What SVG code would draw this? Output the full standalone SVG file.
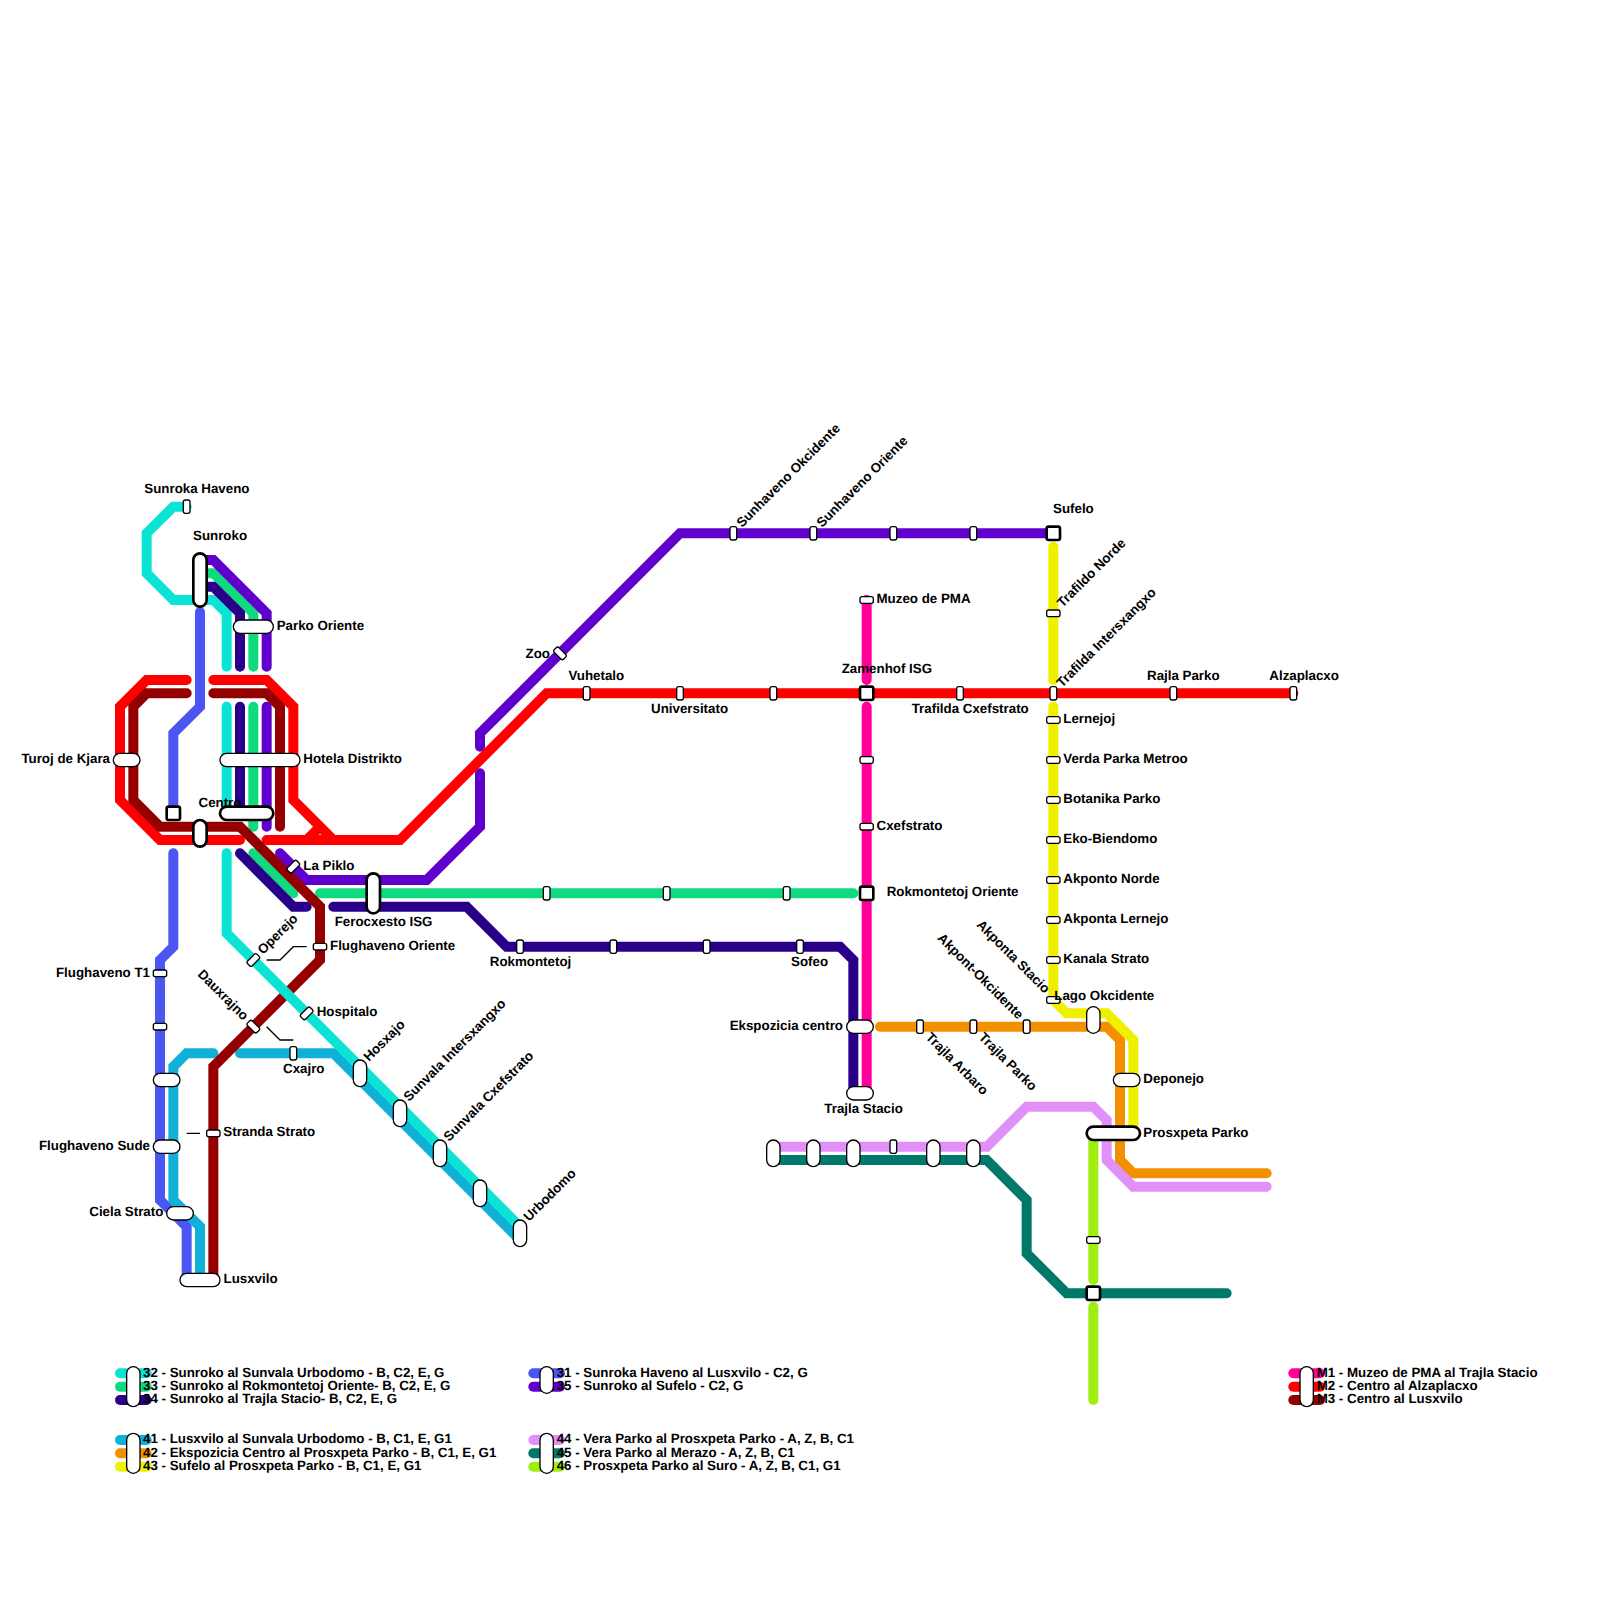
<svg xmlns="http://www.w3.org/2000/svg" width="1600" height="1600" viewBox="0 0 1600 1600">
<style>
.l{fill:none;stroke-width:10;stroke-linecap:round;stroke-linejoin:miter}
.c32{stroke:#0be3d4}.c33{stroke:#10da80}.c34{stroke:#2a008a}.c35{stroke:#6000cc}.c31{stroke:#4a55f2}
.c41{stroke:#10b0d8}.c42{stroke:#f29000}.c43{stroke:#eef000}.c44{stroke:#e090f8}.c45{stroke:#00786a}.c46{stroke:#a0ee10}
.m1{stroke:#ff009a}.m2{stroke:#ff0000}.m3{stroke:#940000}
.lead{fill:none;stroke:#000;stroke-width:1.33}
.s{fill:#fff;stroke:#000;stroke-width:1.33}
.t{fill:#fff;stroke:#000;stroke-width:2.67}
text{font-family:"Liberation Sans",Arial,sans-serif;font-weight:bold;font-size:13.33px;fill:#000;text-rendering:geometricPrecision}
.e{text-anchor:end}
</style>
<g id="connectors">
<path class="l c31" d="M200 612V706.67L173.33 733.33V813.33M173.33 853.33V946.67L160 960V1200L186.67 1226.67V1280"/>
<path class="l c41" d="M213.33 1053.33H186.67L173.33 1066.67V1200L200 1226.67V1280M240 1053.33H333.33L520 1240"/>
<path class="l c32" d="M186.67 506.67H173.33L146.67 533.33V573.33L173.33 600H213.33L226.67 613.33V666.67M226.67 706.67V813.33"/>
<path class="l c33" d="M200 573.33H213.33L253.33 613.33V666.67M253.33 706.67V826.67M253.33 853.33L293.33 893.33M320 893.33H853.33"/>
<path class="l c34" d="M200 586.67H213.33L240 613.33V666.67M240 706.67V813.33M240 853.33L293.33 906.67H306.67M333.33 906.67H466.67L506.67 946.67H840L853.33 960V1093.33"/>
<path class="l c35" d="M200 560H213.33L266.67 613.33V666.67M266.67 706.67V826.67M280 853.33L306.67 880H426.67L480 826.67V773.33M480 746.67V733.33L680 533.33H1053.33"/>
<path class="l c42" d="M880 1026.67H1106.67L1120 1040V1160L1133.33 1173.33H1266.67"/>
<path class="l c43" d="M1053.33 546.67V680M1053.33 706.67V1000L1066.67 1013.33H1106.67L1133.33 1040V1133.33"/>
<path class="l c44" d="M773.33 1146.67H986.67L1026.67 1106.67H1093.33L1106.67 1120V1160L1133.33 1186.67H1266.67"/>
<path class="l c45" d="M773.33 1160H986.67L1026.67 1200V1253.33L1066.67 1293.33H1226.67"/>
<path class="l c46" d="M1093.33 1133.33V1280M1093.33 1306.67V1400"/>
<path class="l m1" d="M866.67 600V680M866.67 706.67V1093.33"/>
<path class="l m2" d="M186.67 680H146.67L120 706.67V800L160 840H240M213.33 680H266.67L293.33 706.67V800L333.33 840M306.67 840L320 826.67M266.67 840H400L546.67 693.33H1293.33"/>
<path class="l m3" d="M186.67 693.33H146.67L133.33 706.67V800L160 826.67H240L320 906.67V960L213.33 1066.67V1280M213.33 693.33H266.67L280 706.67V826.67"/>
<path class="l c32" d="M226.67 853.33V933.33L520 1226.67"/>
<path class="lead" d="M266.67 960H280L293.33 946.67H306.67M266.67 1026.67L280 1040H293.33M186.67 1133.33H200"/>
</g>
<g id="legend">
<g id="legend-a"><path class="l c32" d="M120 1373.33H146.67"/><path class="l c33" d="M120 1386.67H146.67"/><path class="l c34" d="M120 1400H146.67"/><rect class="s" x="126.67" y="1366.67" width="13.33" height="40" rx="6.67"/><text x="143" y="1376.5">32 - Sunroko al Sunvala Urbodomo - B, C2, E, G</text><text x="143" y="1389.8">33 - Sunroko al Rokmontetoj Oriente- B, C2, E, G</text><text x="143" y="1403.2">34 - Sunroko al Trajla Stacio- B, C2, E, G</text></g>
<g id="legend-b"><path class="l c31" d="M533.33 1373.33H560"/><path class="l c35" d="M533.33 1386.67H560"/><rect class="s" x="540" y="1366.67" width="13.33" height="26.67" rx="6.67"/><text x="556.67" y="1376.5">31 - Sunroka Haveno al Lusxvilo - C2, G</text><text x="556.67" y="1389.8">35 - Sunroko al Sufelo - C2, G</text></g>
<g id="legend-c"><path class="l c41" d="M120 1440H146.67"/><path class="l c42" d="M120 1453.33H146.67"/><path class="l c43" d="M120 1466.67H146.67"/><rect class="s" x="126.67" y="1433.33" width="13.33" height="40" rx="6.67"/><text x="143" y="1443.2">41 - Lusxvilo al Sunvala Urbodomo - B, C1, E, G1</text><text x="143" y="1456.5">42 - Ekspozicia Centro al Prosxpeta Parko - B, C1, E, G1</text><text x="143" y="1469.8">43 - Sufelo al Prosxpeta Parko - B, C1, E, G1</text></g>
<g id="legend-d"><path class="l c44" d="M533.33 1440H560"/><path class="l c45" d="M533.33 1453.33H560"/><path class="l c46" d="M533.33 1466.67H560"/><rect class="s" x="540" y="1433.33" width="13.33" height="40" rx="6.67"/><text x="556.67" y="1443.2">44 - Vera Parko al Prosxpeta Parko - A, Z, B, C1</text><text x="556.67" y="1456.5">45 - Vera Parko al Merazo - A, Z, B, C1</text><text x="556.67" y="1469.8">46 - Prosxpeta Parko al Suro - A, Z, B, C1, G1</text></g>
<g id="legend-e"><path class="l m1" d="M1293.33 1373.33H1320"/><path class="l m2" d="M1293.33 1386.67H1320"/><path class="l m3" d="M1293.33 1400H1320"/><rect class="s" x="1300" y="1366.67" width="13.33" height="40" rx="6.67"/><text x="1316.67" y="1376.5">M1 - Muzeo de PMA al Trajla Stacio</text><text x="1316.67" y="1389.8">M2 - Centro al Alzaplacxo</text><text x="1316.67" y="1403.2">M3 - Centro al Lusxvilo</text></g>
</g>
<g id="sunroka-haveno"><rect class="s" x="183.33" y="500" width="6.67" height="13.33" rx="2"/><text x="144.3" y="493.3">Sunroka Haveno</text></g>
<g id="sunroko"><rect class="t" x="193.33" y="553.33" width="13.33" height="53.33" rx="6.67"/><text x="193" y="540">Sunroko</text></g>
<g id="parko-oriente"><rect class="s" x="233.33" y="620" width="40" height="13.33" rx="6.67"/><text x="276.67" y="630">Parko Oriente</text></g>
<g id="turoj-de-kjara"><rect class="s" x="113.33" y="753.33" width="26.67" height="13.33" rx="6.67"/><text class="e" x="110" y="763.3">Turoj de Kjara</text></g>
<g id="hotela-distrikto"><rect class="s" x="220" y="753.33" width="80" height="13.33" rx="6.67"/><text x="303.33" y="763.3">Hotela Distrikto</text></g>
<g id="flughaveno-square"><rect class="t" x="166.67" y="806.67" width="13.33" height="13.33" rx="2"/></g>
<g id="centro-a"><rect class="t" x="220" y="806.67" width="53.33" height="13.33" rx="6.67"/><text x="198.5" y="806.67">Centro</text></g>
<g id="centro-b"><rect class="t" x="193.33" y="820" width="13.33" height="26.67" rx="6.67"/></g>
<g id="la-piklo"><rect class="s" x="-6.67" y="-3.33" width="13.33" height="6.67" rx="2" transform="translate(293.33 866.67) rotate(-45)"/><text x="303.33" y="870">La Piklo</text></g>
<g id="ferocxesto-isg"><rect class="t" x="366.67" y="873.33" width="13.33" height="40" rx="6.67"/><text x="334.7" y="926">Ferocxesto ISG</text></g>
<g id="flughaveno-oriente"><rect class="s" x="313.33" y="943.33" width="13.33" height="6.67" rx="2"/><text x="330" y="950">Flughaveno Oriente</text></g>
<g id="operejo"><rect class="s" x="-6.67" y="-3.33" width="13.33" height="6.67" rx="2" transform="translate(253.33 960) rotate(-45)"/><text transform="translate(263 955) rotate(-45)">Operejo</text></g>
<g id="hospitalo"><rect class="s" x="-6.67" y="-3.33" width="13.33" height="6.67" rx="2" transform="translate(306.67 1013.33) rotate(-45)"/><text x="316.7" y="1016">Hospitalo</text></g>
<g id="dauxrajno"><rect class="s" x="-6.67" y="-3.33" width="13.33" height="6.67" rx="2" transform="translate(253.33 1026.67) rotate(45)"/><text class="e" transform="translate(243 1021) rotate(45)">Dauxrajno</text></g>
<g id="cxajro"><rect class="s" x="290" y="1046.67" width="6.67" height="13.33" rx="2"/><text x="283" y="1073.33">Cxajro</text></g>
<g id="flughaveno-t1"><rect class="s" x="153.33" y="970" width="13.33" height="6.67" rx="2"/><text class="e" x="150" y="977">Flughaveno T1</text></g>
<g id="blue-unnamed"><rect class="s" x="153.33" y="1023.33" width="13.33" height="6.67" rx="2"/></g>
<g id="blue-large"><rect class="s" x="153.33" y="1073.33" width="26.67" height="13.33" rx="6.67"/></g>
<g id="flughaveno-sude"><rect class="s" x="153.33" y="1140" width="26.67" height="13.33" rx="6.67"/><text class="e" x="150" y="1149.6">Flughaveno Sude</text></g>
<g id="ciela-strato"><rect class="s" x="166.67" y="1206.67" width="26.67" height="13.33" rx="6.67"/><text class="e" x="163.33" y="1216">Ciela Strato</text></g>
<g id="lusxvilo"><rect class="s" x="180" y="1273.33" width="40" height="13.33" rx="6.67"/><text x="223.5" y="1282.67">Lusxvilo</text></g>
<g id="stranda-strato"><rect class="s" x="206.67" y="1130" width="13.33" height="6.67" rx="2"/><text x="223.3" y="1136">Stranda Strato</text></g>
<g id="hosxajo"><rect class="s" x="353.33" y="1060" width="13.33" height="26.67" rx="6.67"/><text transform="translate(369 1062) rotate(-45)">Hosxajo</text></g>
<g id="sunvala-intersxangxo"><rect class="s" x="393.33" y="1100" width="13.33" height="26.67" rx="6.67"/><text transform="translate(409 1102) rotate(-45)">Sunvala Intersxangxo</text></g>
<g id="sunvala-cxefstrato"><rect class="s" x="433.33" y="1140" width="13.33" height="26.67" rx="6.67"/><text transform="translate(449 1142) rotate(-45)">Sunvala Cxefstrato</text></g>
<g id="turq-unnamed"><rect class="s" x="473.33" y="1180" width="13.33" height="26.67" rx="6.67"/></g>
<g id="urbodomo"><rect class="s" x="513.33" y="1220" width="13.33" height="26.67" rx="6.67"/><text transform="translate(529 1222) rotate(-45)">Urbodomo</text></g>
<g id="zoo"><rect class="s" x="-6.67" y="-3.33" width="13.33" height="6.67" rx="2" transform="translate(560 653.33) rotate(45)"/><text class="e" x="550" y="658">Zoo</text></g>
<g id="sunhaveno-okcidente"><rect class="s" x="730" y="526.67" width="6.67" height="13.33" rx="2"/><text transform="translate(742 528) rotate(-45)">Sunhaveno Okcidente</text></g>
<g id="sunhaveno-oriente"><rect class="s" x="810" y="526.67" width="6.67" height="13.33" rx="2"/><text transform="translate(822 528) rotate(-45)">Sunhaveno Oriente</text></g>
<g id="purple-a"><rect class="s" x="890" y="526.67" width="6.67" height="13.33" rx="2"/></g>
<g id="purple-b"><rect class="s" x="970" y="526.67" width="6.67" height="13.33" rx="2"/></g>
<g id="sufelo"><rect class="t" x="1046.67" y="526.67" width="13.33" height="13.33" rx="2"/><text x="1053" y="513">Sufelo</text></g>
<g id="vuhetalo"><rect class="s" x="583.33" y="686.67" width="6.67" height="13.33" rx="2"/><text x="568.4" y="680">Vuhetalo</text></g>
<g id="universitato"><rect class="s" x="676.67" y="686.67" width="6.67" height="13.33" rx="2"/><text x="651" y="713.3">Universitato</text></g>
<g id="red-unnamed"><rect class="s" x="770" y="686.67" width="6.67" height="13.33" rx="2"/></g>
<g id="zamenhof-isg"><rect class="t" x="860" y="686.67" width="13.33" height="13.33" rx="2"/><text x="841.7" y="673">Zamenhof ISG</text></g>
<g id="trafilda-cxefstrato"><rect class="s" x="956.67" y="686.67" width="6.67" height="13.33" rx="2"/><text x="911.7" y="713.3">Trafilda Cxefstrato</text></g>
<g id="trafilda-intersxangxo"><rect class="s" x="1050" y="686.67" width="6.67" height="13.33" rx="2"/><text transform="translate(1062 688) rotate(-45)">Trafilda Intersxangxo</text></g>
<g id="rajla-parko"><rect class="s" x="1170" y="686.67" width="6.67" height="13.33" rx="2"/><text x="1147" y="680">Rajla Parko</text></g>
<g id="alzaplacxo"><rect class="s" x="1290" y="686.67" width="6.67" height="13.33" rx="2"/><text x="1269.3" y="680">Alzaplacxo</text></g>
<g id="muzeo-de-pma"><rect class="s" x="860" y="596.67" width="13.33" height="6.67" rx="2"/><text x="876.5" y="603">Muzeo de PMA</text></g>
<g id="magenta-unnamed"><rect class="s" x="860" y="756.67" width="13.33" height="6.67" rx="2"/></g>
<g id="cxefstrato"><rect class="s" x="860" y="823.33" width="13.33" height="6.67" rx="2"/><text x="876.5" y="830">Cxefstrato</text></g>
<g id="rokmontetoj-oriente"><rect class="t" x="860" y="886.67" width="13.33" height="13.33" rx="2"/><text x="886.7" y="896">Rokmontetoj Oriente</text></g>
<g id="green-a"><rect class="s" x="543.33" y="886.67" width="6.67" height="13.33" rx="2"/></g>
<g id="green-b"><rect class="s" x="663.33" y="886.67" width="6.67" height="13.33" rx="2"/></g>
<g id="green-c"><rect class="s" x="783.33" y="886.67" width="6.67" height="13.33" rx="2"/></g>
<g id="rokmontetoj"><rect class="s" x="516.67" y="940" width="6.67" height="13.33" rx="2"/><text x="489.8" y="966">Rokmontetoj</text></g>
<g id="dblue-a"><rect class="s" x="610" y="940" width="6.67" height="13.33" rx="2"/></g>
<g id="dblue-b"><rect class="s" x="703.33" y="940" width="6.67" height="13.33" rx="2"/></g>
<g id="sofeo"><rect class="s" x="796.67" y="940" width="6.67" height="13.33" rx="2"/><text x="791" y="966">Sofeo</text></g>
<g id="ekspozicia-centro"><rect class="s" x="846.67" y="1020" width="26.67" height="13.33" rx="6.67"/><text class="e" x="843" y="1029.6">Ekspozicia centro</text></g>
<g id="trajla-stacio"><rect class="s" x="846.67" y="1086.67" width="26.67" height="13.33" rx="6.67"/><text x="824.3" y="1112.67">Trajla Stacio</text></g>
<g id="trajla-arbaro"><rect class="s" x="916.67" y="1020" width="6.67" height="13.33" rx="2"/><text transform="translate(925 1038) rotate(45)">Trajla Arbaro</text></g>
<g id="trajla-parko"><rect class="s" x="970" y="1020" width="6.67" height="13.33" rx="2"/><text transform="translate(978 1038) rotate(45)">Trajla Parko</text></g>
<g id="akpont-okcidente"><rect class="s" x="1023.33" y="1020" width="6.67" height="13.33" rx="2"/><text class="e" transform="translate(1018 1020) rotate(45)">Akpont-Okcidente</text></g>
<g id="orange-large"><rect class="s" x="1086.67" y="1006.67" width="13.33" height="26.67" rx="6.67"/></g>
<g id="trafildo-norde"><rect class="s" x="1046.67" y="610" width="13.33" height="6.67" rx="2"/><text transform="translate(1062.5 608) rotate(-45)">Trafildo Norde</text></g>
<g id="lernejoj"><rect class="s" x="1046.67" y="716.67" width="13.33" height="6.67" rx="2"/><text x="1063.3" y="723.3">Lernejoj</text></g>
<g id="verda-parka-metroo"><rect class="s" x="1046.67" y="756.67" width="13.33" height="6.67" rx="2"/><text x="1063.3" y="763.3">Verda Parka Metroo</text></g>
<g id="botanika-parko"><rect class="s" x="1046.67" y="796.67" width="13.33" height="6.67" rx="2"/><text x="1063.3" y="803.3">Botanika Parko</text></g>
<g id="eko-biendomo"><rect class="s" x="1046.67" y="836.67" width="13.33" height="6.67" rx="2"/><text x="1063.3" y="843.3">Eko-Biendomo</text></g>
<g id="akponto-norde"><rect class="s" x="1046.67" y="876.67" width="13.33" height="6.67" rx="2"/><text x="1063.3" y="883.3">Akponto Norde</text></g>
<g id="akponta-lernejo"><rect class="s" x="1046.67" y="916.67" width="13.33" height="6.67" rx="2"/><text x="1063.3" y="923.3">Akponta Lernejo</text></g>
<g id="kanala-strato"><rect class="s" x="1046.67" y="956.67" width="13.33" height="6.67" rx="2"/><text x="1063.3" y="963.3">Kanala Strato</text></g>
<g id="akponta-stacio"><text class="e" transform="translate(1044.5 994) rotate(45)">Akponta Stacio</text></g>
<g id="lago-okcidente"><rect class="s" x="1046.67" y="996.67" width="13.33" height="6.67" rx="2"/><text x="1054.3" y="999.6">Lago Okcidente</text></g>
<g id="deponejo"><rect class="s" x="1113.33" y="1073.33" width="26.67" height="13.33" rx="6.67"/><text x="1143.3" y="1083.3">Deponejo</text></g>
<g id="prosxpeta-parko"><rect class="t" x="1086.67" y="1126.67" width="53.33" height="13.33" rx="6.67"/><text x="1143.3" y="1136.67">Prosxpeta Parko</text></g>
<g id="lime-unnamed"><rect class="s" x="1086.67" y="1236.67" width="13.33" height="6.67" rx="2"/></g>
<g id="lime-square"><rect class="t" x="1086.67" y="1286.67" width="13.33" height="13.33" rx="2"/></g>
<g id="vera-a"><rect class="s" x="766.67" y="1140" width="13.33" height="26.67" rx="6.67"/></g>
<g id="vera-b"><rect class="s" x="806.67" y="1140" width="13.33" height="26.67" rx="6.67"/></g>
<g id="vera-c"><rect class="s" x="846.67" y="1140" width="13.33" height="26.67" rx="6.67"/></g>
<g id="vera-d"><rect class="s" x="890" y="1140" width="6.67" height="13.33" rx="2"/></g>
<g id="vera-e"><rect class="s" x="926.67" y="1140" width="13.33" height="26.67" rx="6.67"/></g>
<g id="vera-f"><rect class="s" x="966.67" y="1140" width="13.33" height="26.67" rx="6.67"/></g>
</svg>
